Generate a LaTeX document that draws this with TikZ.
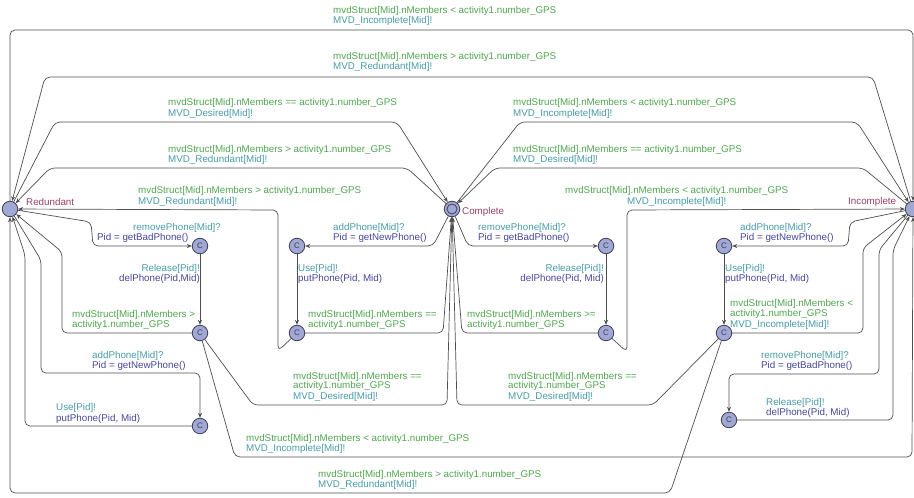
\documentclass[tikz,border=0pt]{standalone}
\usepackage{fontspec}
\setmainfont{Liberation Sans}
\usetikzlibrary{arrows.meta}
\definecolor{guardcol}{RGB}{80,165,80}
\definecolor{synccol}{RGB}{72,155,168}
\definecolor{updcol}{RGB}{70,70,155}
\definecolor{namecol}{RGB}{150,64,104}
\definecolor{locfill}{RGB}{162,168,212}
\definecolor{locdraw}{RGB}{60,62,90}
\definecolor{edgecol}{RGB}{78,78,78}
\newcommand{\nmem}{mvdStruct[Mid].nMembers}
\newcommand{\ngps}{activity1.number\_GPS}
\tikzset{
  loc/.style={circle,draw=locdraw,fill=locfill,line width=0.8pt,minimum size=15.5pt,inner sep=0pt},
  committed/.style={loc,font=\fontsize{8}{8}\selectfont,text=locdraw},
  trans/.style={draw=edgecol,line width=0.7pt,rounded corners=5pt,-{Stealth[length=5pt,width=4pt]}},
  lbl/.style={inner sep=0pt,anchor=base west,font=\fontsize{9.8}{10.5}\selectfont},
  guard/.style={lbl,text=guardcol},
  sync/.style={lbl,text=synccol},
  upd/.style={lbl,text=updcol},
  locname/.style={lbl,text=namecol}
}

\begin{document}
\begin{tikzpicture}[x=1pt,y=-1pt]
    \useasboundingbox (0,0) rectangle (914,498);
    \node[loc] (red) at (10,209) {};
    \node[loc] (com) at (452,209) {};
    \draw[locdraw,line width=0.8pt] (com.center) circle (5pt);
    \node[loc] (inc) at (913,209) {};
    \node[committed] (r1) at (200,246) {C};
    \node[committed] (r2) at (200,333) {C};
    \node[committed] (r3) at (200,426) {C};
    \node[committed] (c1) at (297,246) {C};
    \node[committed] (c2) at (297,333) {C};
    \node[committed] (c3) at (606,246) {C};
    \node[committed] (c4) at (606,333) {C};
    \node[committed] (i1) at (724,246) {C};
    \node[committed] (i2) at (724,333) {C};
    \node[committed] (i3) at (729,420) {C};

    \node[locname] (nred) at (26,205) {Redundant};
    \node[locname] (ncom) at (462,214) {Complete};
    \node[locname] (ninc) at (848,204) {Incomplete};

    \draw[trans] (red) -- (10,30) -- (913,30) -- (inc);
    \draw[trans] (inc) -- (873,77) -- (45,77) -- (red);
    \draw[trans] (red) -- (55,122) -- (397,122) -- (com);
    \draw[trans] (com) -- (407,168) -- (50,168) -- (red);
    \draw[trans] (com) -- (520,122) -- (857,122) -- (inc);
    \draw[trans] (inc) -- (863,168) -- (495,168) -- (com);

    \draw[trans] (red) -- (91,222) -- (93,246) -- (r1);
    \draw[trans] (r1) -- (r2);
    \draw[trans] (r2) -- (62,333) -- (62,252) -- (red);
    \draw[trans] (r2) -- (253,405) -- (447,405) -- (com);
    \draw[trans] (r2) -- (235,457) -- (912,457) -- (inc);
    \draw[trans] (red) -- (41,260) -- (41,373) -- (200,373) -- (r3);
    \draw[trans] (r3) -- (25,426) -- (25,255) -- (red);
    \draw[trans] (i2) -- (670,493) -- (10,493) -- (red);

    \draw[trans] (com) -- (433,246) -- (c1);
    \draw[trans] (c1) -- (c2);
    \draw[trans] (c2) -- (443,333) -- (com);
    \draw[trans] (c2) -- (278,351) -- (278,210) -- (red);
    \draw[trans] (com) -- (468,246) -- (c3);
    \draw[trans] (c3) -- (c4);
    \draw[trans] (c4) -- (462,333) -- (com);
    \draw[trans] (c4) -- (627,352) -- (627,210) -- (inc);

    \draw[trans] (inc) -- (850,222) -- (848,246) -- (i1);
    \draw[trans] (i1) -- (i2);
    \draw[trans] (i2) -- (863,333) -- (863,248) -- (inc);
    \draw[trans] (i2) -- (653,405) -- (457,405) -- (com);
    \draw[trans] (inc) -- (879,250) -- (879,374) -- (729,374) -- (i3);
    \draw[trans] (i3) -- (893,420) -- (893,250) -- (inc);

    \node[guard] (g1) at (333,13) {\nmem{} < \ngps};
    \node[sync] (s1) at (333,23) {MVD\_Incomplete[Mid]!};
    \node[guard] (g2) at (333,59) {\nmem{} > \ngps};
    \node[sync] (s2) at (333,69) {MVD\_Redundant[Mid]!};
    \node[guard] (g3) at (168,105) {\nmem{} == \ngps};
    \node[sync] (s3) at (168,116) {MVD\_Desired[Mid]!};
    \node[guard] (g4) at (168,152) {\nmem{} > \ngps};
    \node[sync] (s4) at (168,162) {MVD\_Redundant[Mid]!};
    \node[guard] (g5) at (513,105) {\nmem{} < \ngps};
    \node[sync] (s5) at (513,116) {MVD\_Incomplete[Mid]!};
    \node[guard] (g6) at (513,152) {\nmem{} == \ngps};
    \node[sync] (s6) at (513,162) {MVD\_Desired[Mid]!};
    \node[guard] (g7) at (138,193) {\nmem{} > \ngps};
    \node[sync] (s7) at (138,204) {MVD\_Redundant[Mid]!};
    \node[guard] (g8) at (565,193) {\nmem{} < \ngps};
    \node[sync] (s8) at (627,204) {MVD\_Incomplete[Mid]!};

    \node[sync] (s9) at (133,230) {removePhone[Mid]?};
    \node[upd] (u9) at (97,240) {Pid = getBadPhone()};
    \node[sync] (s10) at (333,230) {addPhone[Mid]?};
    \node[upd] (u10) at (333,240) {Pid = getNewPhone()};
    \node[sync] (s11) at (478,230) {removePhone[Mid]?};
    \node[upd] (u11) at (478,240) {Pid = getBadPhone()};
    \node[sync] (s12) at (740,230) {addPhone[Mid]?};
    \node[upd] (u12) at (740,240) {Pid = getNewPhone()};

    \node[sync,anchor=base east] (s13) at (200,271) {Release[Pid]!};
    \node[upd,anchor=base east] (u13) at (200,281) {delPhone(Pid,Mid)};
    \node[sync] (s14) at (298,271) {Use[Pid]!};
    \node[upd] (u14) at (298,281) {putPhone(Pid, Mid)};
    \node[sync,anchor=base east] (s15) at (604,271) {Release[Pid]!};
    \node[upd,anchor=base east] (u15) at (604,281) {delPhone(Pid, Mid)};
    \node[sync] (s16) at (725,271) {Use[Pid]!};
    \node[upd] (u16) at (725,281) {putPhone(Pid, Mid)};

    \node[guard] (g17) at (72,317) {\nmem{} >};
    \node[guard] (h17) at (72,327) {\ngps};
    \node[guard] (g18) at (308,317) {\nmem{} ==};
    \node[guard] (h18) at (308,327) {\ngps};
    \node[guard] (g19) at (467,317) {\nmem{} >=};
    \node[guard] (h19) at (467,327) {\ngps};
    \node[guard] (g20) at (730,306) {\nmem{} <};
    \node[guard] (h20) at (730,316) {\ngps};
    \node[sync] (s20) at (730,327) {MVD\_Incomplete[Mid]!};

    \node[sync] (s21) at (92,358) {addPhone[Mid]?};
    \node[upd] (u21) at (92,368) {Pid = getNewPhone()};
    \node[sync] (s22) at (761,358) {removePhone[Mid]?};
    \node[upd] (u22) at (761,368) {Pid = getBadPhone()};
    \node[guard] (g23) at (293,379) {\nmem{} ==};
    \node[guard] (h23) at (293,388) {\ngps};
    \node[sync] (s23) at (293,399) {MVD\_Desired[Mid]!};
    \node[guard] (g24) at (508,379) {\nmem{} ==};
    \node[guard] (h24) at (508,388) {\ngps};
    \node[sync] (s24) at (508,399) {MVD\_Desired[Mid]!};
    \node[sync] (s25) at (766,405) {Release[Pid]!};
    \node[upd] (u25) at (766,415) {delPhone(Pid, Mid)};
    \node[sync] (s26) at (56,410) {Use[Pid]!};
    \node[upd] (u26) at (56,421) {putPhone(Pid, Mid)};
    \node[guard] (g27) at (246,441) {\nmem{} < \ngps};
    \node[sync] (s27) at (246,451) {MVD\_Incomplete[Mid]!};
    \node[guard] (g28) at (318,477) {\nmem{} > \ngps};
    \node[sync] (s28) at (318,487) {MVD\_Redundant[Mid]!};
\end{tikzpicture}
\end{document}
